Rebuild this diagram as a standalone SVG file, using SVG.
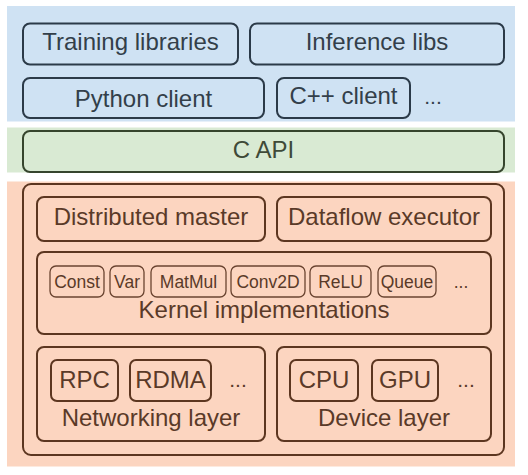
<svg xmlns="http://www.w3.org/2000/svg" width="528" height="475" viewBox="0 0 528 475">
<style>
text{font-family:"Liberation Sans",Arial,sans-serif;text-anchor:middle}
.bb{fill:#cfe2f3;stroke:#2b3a48;stroke-width:2}
.bt{fill:#333f4a;font-size:24px}
.gb{fill:#d9ead3;stroke:#36452d;stroke-width:2}
.gt{fill:#3f4a38;font-size:24px}
.sb{fill:#fcd5c0;stroke:#5c3620;stroke-width:2}
.sk{fill:#fcd5c0;stroke:#6a4430;stroke-width:1.3}
.st{fill:#5a3a28;font-size:24px}
.ss{fill:#5a3a28;font-size:17.5px}
.dt{fill:#5a3a28;font-size:21px}
</style>
<rect x="7" y="6" width="508" height="115.5" fill="#cfe2f3"/>
<rect x="7" y="127.5" width="508" height="45" fill="#d9ead3"/>
<rect x="7" y="181.5" width="508" height="285" fill="#fcd5c0"/>
<g id="training"><rect class="bb" x="23" y="23.5" width="215" height="41" rx="7"/><text class="bt" x="130.5" y="50">Training libraries</text></g>
<g id="inference"><rect class="bb" x="250" y="23.5" width="254" height="41" rx="7"/><text class="bt" x="377" y="50">Inference libs</text></g>
<g id="python"><rect class="bb" x="23" y="78" width="241" height="40" rx="7"/><text class="bt" x="143.5" y="107">Python client</text></g>
<g id="cpp"><rect class="bb" x="277" y="78" width="133" height="40" rx="7"/><text class="bt" x="343.5" y="104">C++ client</text></g>
<g id="more1"><text class="bt" x="433" y="104" style="font-size:21px">...</text></g>
<g id="capi"><rect class="gb" x="23" y="131" width="481" height="41" rx="7"/><text class="gt" x="263.5" y="158">C API</text></g>
<g id="runtime"><rect class="sb" x="23" y="184" width="481" height="271" rx="8"/></g>
<g id="master"><rect class="sb" x="37" y="197" width="228" height="44" rx="7"/><text class="st" x="151" y="225">Distributed master</text></g>
<g id="executor"><rect class="sb" x="277" y="197" width="214" height="44" rx="7"/><text class="st" x="384" y="225">Dataflow executor</text></g>
<g id="kernels"><rect class="sb" x="37" y="252" width="454" height="82" rx="7"/><text class="st" x="264" y="318">Kernel implementations</text></g>
<g id="const"><rect class="sk" x="50" y="266" width="54" height="31" rx="6"/><text class="ss" x="77" y="288">Const</text></g>
<g id="var"><rect class="sk" x="110" y="266" width="34" height="31" rx="6"/><text class="ss" x="127" y="288">Var</text></g>
<g id="matmul"><rect class="sk" x="151" y="266" width="75" height="31" rx="6"/><text class="ss" x="188.5" y="288">MatMul</text></g>
<g id="conv2d"><rect class="sk" x="231" y="266" width="74" height="31" rx="6"/><text class="ss" x="268" y="288">Conv2D</text></g>
<g id="relu"><rect class="sk" x="310" y="266" width="61" height="31" rx="6"/><text class="ss" x="340.5" y="288">ReLU</text></g>
<g id="queue"><rect class="sk" x="378" y="266" width="58" height="31" rx="6"/><text class="ss" x="407" y="288">Queue</text></g>
<g id="more2"><text class="ss" x="461" y="288">...</text></g>
<g id="networking"><rect class="sb" x="37" y="347" width="228" height="94" rx="7"/><text class="st" x="151" y="426">Networking layer</text></g>
<g id="rpc"><rect class="sb" x="51" y="360" width="67" height="41" rx="6"/><text class="st" x="84.5" y="388">RPC</text></g>
<g id="rdma"><rect class="sb" x="130" y="360" width="81" height="41" rx="6"/><text class="st" x="170.5" y="388">RDMA</text></g>
<g id="more3"><text class="dt" x="238" y="387">...</text></g>
<g id="device"><rect class="sb" x="277" y="347" width="214" height="94" rx="7"/><text class="st" x="384" y="426">Device layer</text></g>
<g id="cpu"><rect class="sb" x="290" y="360" width="68" height="41" rx="6"/><text class="st" x="324" y="388">CPU</text></g>
<g id="gpu"><rect class="sb" x="372" y="360" width="66" height="41" rx="6"/><text class="st" x="405" y="388">GPU</text></g>
<g id="more4"><text class="dt" x="466" y="387">...</text></g>
<g id="connectors"></g>
</svg>
